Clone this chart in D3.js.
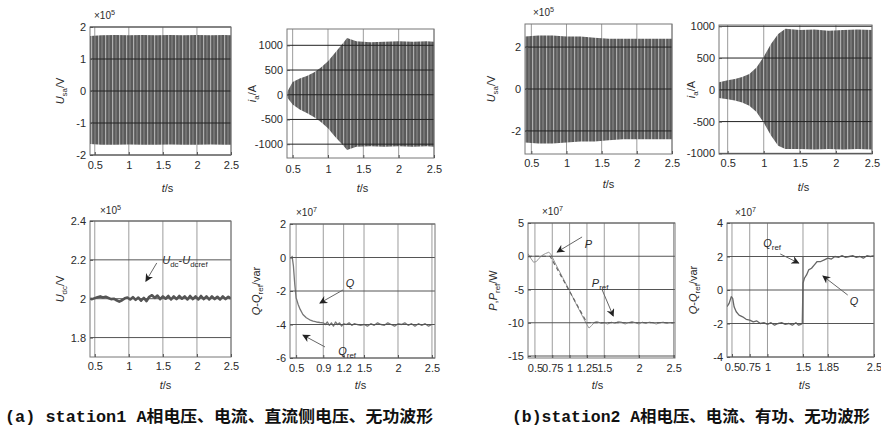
<!DOCTYPE html>
<html>
<head>
<meta charset="utf-8">
<script src="https://cdn.jsdelivr.net/npm/d3@7"></script>
<style>
body { margin: 0; background: #fff; }
svg { display: block; }
</style>
</head>
<body>
<div id="chart"></div>
<script>
// ---- (a) station1 ----
// phase voltage envelope, x10^5 V
const a1Time  = [0.43, 0.6, 0.8, 1.0, 1.2, 1.4, 1.6, 1.8, 2.0, 2.2, 2.4, 2.5];
const a1Upper = [1.72, 1.74, 1.75, 1.74, 1.75, 1.74, 1.75, 1.74, 1.75, 1.74, 1.75, 1.74];
const a1Lower = [-1.66, -1.68, -1.68, -1.67, -1.68, -1.68, -1.67, -1.68, -1.68, -1.67, -1.68, -1.68];

// phase current envelope, A
const a2Time  = [0.42, 0.5, 0.6, 0.7, 0.8, 0.9, 1.0, 1.1, 1.2, 1.27, 1.4, 1.6, 1.8, 2.0, 2.2, 2.4, 2.5];
const a2Upper = [50, 260, 330, 380, 450, 550, 680, 850, 1020, 1150, 1080, 1060, 1070, 1080, 1070, 1080, 1070];
const a2Lower = [-50, -200, -300, -370, -450, -550, -680, -850, -1000, -1120, -1050, -1040, -1050, -1040, -1050, -1040, -1050];

// dc voltage, x10^5 V
const a3Time = [0.43, 0.46, 0.50, 0.54, 0.58, 0.62, 0.66, 0.70, 0.74, 0.78, 0.82, 0.86, 0.90, 0.94, 0.98,
  1.02, 1.06, 1.10, 1.14, 1.18, 1.22, 1.26, 1.30, 1.34, 1.38, 1.42, 1.46, 1.50, 1.54, 1.58, 1.62, 1.66,
  1.70, 1.74, 1.78, 1.82, 1.86, 1.90, 1.94, 1.98, 2.02, 2.06, 2.10, 2.14, 2.18, 2.22, 2.26, 2.30, 2.34,
  2.38, 2.42, 2.46, 2.50];
const a3Udc = [2.000, 1.998, 2.003, 2.008, 2.012, 2.006, 2.010, 2.004, 1.998, 2.000, 1.992, 1.985, 1.992, 2.002, 2.006,
  1.996, 2.008, 1.994, 2.006, 1.990, 2.004, 1.988, 2.010, 2.018, 2.004, 2.016, 1.998, 2.012, 2.000, 2.014, 1.996, 2.012,
  1.998, 2.014, 2.000, 2.012, 1.996, 2.014, 1.998, 2.012, 1.996, 2.014, 1.998, 2.012, 1.996, 2.012, 1.998, 2.010, 1.996,
  2.012, 1.998, 2.010, 2.000];

// reactive power, x10^7 var
const a4Time = [0.44, 0.46, 0.48, 0.50, 0.53, 0.56, 0.60, 0.65, 0.70, 0.75, 0.80, 0.85, 0.90, 0.93, 0.96, 0.99,
  1.02, 1.05, 1.08, 1.11, 1.14, 1.17, 1.20, 1.24, 1.28, 1.32, 1.36, 1.40, 1.45, 1.50, 1.55, 1.60, 1.65, 1.70,
  1.75, 1.80, 1.85, 1.90, 1.95, 2.00, 2.05, 2.10, 2.15, 2.20, 2.25, 2.30, 2.35, 2.40, 2.45, 2.50];
const a4Q = [0.1, -0.5, -1.6, -2.4, -2.8, -3.1, -3.4, -3.6, -3.72, -3.8, -3.85, -3.88, -3.9, -4.0, -3.85, -4.05,
  -3.9, -4.1, -3.85, -4.0, -3.9, -4.1, -3.95, -4.0, -3.9, -4.05, -3.95, -4.0, -4.05, -4.0, -4.1, -3.95, -4.05, -3.9,
  -4.0, -4.05, -3.9, -4.0, -4.1, -3.95, -4.0, -3.9, -4.05, -3.95, -4.1, -3.95, -4.05, -3.95, -4.1, -4.0];
const a4RefTime = [0.5, 2.5];
const a4Qref = [-4, -4];

// ---- (b) station2 ----
const b1Time  = [0.41, 0.6, 0.8, 1.0, 1.2, 1.4, 1.6, 1.8, 2.0, 2.2, 2.5];
const b1Upper = [2.5, 2.55, 2.55, 2.5, 2.5, 2.45, 2.4, 2.4, 2.4, 2.4, 2.4];
const b1Lower = [-2.55, -2.6, -2.6, -2.55, -2.5, -2.5, -2.45, -2.4, -2.4, -2.4, -2.4];

const b2Time  = [0.38, 0.5, 0.6, 0.7, 0.8, 0.9, 1.0, 1.1, 1.2, 1.3, 1.5, 1.7, 1.9, 2.1, 2.3, 2.5];
const b2Upper = [120, 150, 170, 200, 250, 350, 520, 720, 880, 960, 940, 950, 930, 940, 950, 940];
const b2Lower = [-130, -150, -170, -200, -250, -350, -520, -720, -880, -930, -930, -940, -930, -940, -930, -940];

// active power, x10^7 W
const b3Time = [0.40, 0.44, 0.48, 0.52, 0.56, 0.60, 0.65, 0.70, 0.73, 0.80, 0.90, 1.00, 1.10, 1.20, 1.25, 1.28,
  1.32, 1.36, 1.40, 1.45, 1.50, 1.55, 1.60, 1.65, 1.70, 1.75, 1.80, 1.85, 1.90, 1.95, 2.00, 2.05, 2.10, 2.15,
  2.20, 2.25, 2.30, 2.35, 2.40, 2.45, 2.50];
const b3P = [0.4, -0.3, -0.9, -0.8, -0.3, 0.1, 0.4, 0.6, 0.3, -1.2, -3.2, -5.2, -7.3, -9.3, -10.3, -10.8,
  -10.4, -9.9, -9.8, -10.1, -10.0, -10.2, -9.9, -10.1, -9.8, -9.9, -10.2, -10.0, -9.8, -10.0, -10.2, -9.9, -10.1, -9.9,
  -10.0, -10.2, -10.0, -9.9, -10.1, -10.0, -10.1];
const b3RefTime = [0.40, 0.72, 1.25, 2.50];
const b3Pref = [0, 0, -10, -10];

// reactive power, x10^7 var
const b4Time = [0.43, 0.46, 0.49, 0.51, 0.53, 0.56, 0.60, 0.65, 0.70, 0.75, 0.80, 0.85, 0.90, 0.95, 1.00, 1.05,
  1.10, 1.15, 1.20, 1.25, 1.30, 1.35, 1.40, 1.44, 1.47, 1.49, 1.50, 1.52, 1.55, 1.58, 1.62, 1.66, 1.70, 1.75,
  1.80, 1.85, 1.90, 1.95, 2.00, 2.05, 2.10, 2.15, 2.20, 2.25, 2.30, 2.35, 2.40, 2.45, 2.50];
const b4Q = [-1.0, -0.8, -0.4, -0.5, -1.0, -1.3, -1.5, -1.6, -1.75, -1.8, -1.9, -1.85, -2.0, -1.95, -2.05, -1.95,
  -2.1, -2.0, -1.95, -2.05, -2.0, -2.1, -1.95, -2.1, -2.05, -2.0, 0.4, 0.7, 0.9, 1.2, 1.3, 1.5, 1.7, 1.7,
  1.8, 1.9, 1.85, 2.0, 1.95, 2.05, 1.95, 2.0, 2.05, 1.95, 2.0, 1.9, 2.05, 2.0, 2.05];
const b4RefTime = [0.43, 1.5, 1.5, 2.5];
const b4Qref = [-2, -2, 2, 2];

// tick values
const xTicksStd = [0.5, 1, 1.5, 2, 2.5];
const xTicksA4 = [0.5, 0.9, 1.2, 1.5, 2, 2.5];
const xTicksB3 = [0.5, 0.75, 1, 1.25, 1.5, 2, 2.5];
const xTicksB4 = [0.5, 0.75, 1, 1.5, 1.85, 2.5];

const captionA = "(a) station1 A相电压、电流、直流侧电压、无功波形";
const captionB = "(b)station2 A相电压、电流、有功、无功波形";

const W = 881, H = 435;
const svg = d3.select("#chart").append("svg")
    .attr("width", W)
    .attr("height", H)
    .attr("viewBox", [0, 0, W, H]);

const defs = svg.append("defs");
// dense 50 Hz waveform shows up as a dark band with light stripes
const pat = defs.append("pattern")
    .attr("id", "wave")
    .attr("patternUnits", "userSpaceOnUse")
    .attr("width", 7)
    .attr("height", 6);
pat.append("rect").attr("width", 7).attr("height", 6).attr("fill", "#5a5a5a");
pat.append("rect").attr("x", 0).attr("width", 1.2).attr("height", 6).attr("fill", "#b0b0b0");
pat.append("rect").attr("x", 3.5).attr("width", 1).attr("height", 6).attr("fill", "#8c8c8c");

defs.append("marker")
    .attr("id", "arrow")
    .attr("viewBox", "0 0 10 10")
    .attr("refX", 9)
    .attr("refY", 5)
    .attr("markerUnits", "userSpaceOnUse")
    .attr("markerWidth", 10)
    .attr("markerHeight", 8)
    .attr("orient", "auto")
  .append("path")
    .attr("d", "M0,0L10,5L0,10L3,5z")
    .attr("fill", "#222");

const sansFont = "'Liberation Sans', Arial, sans-serif";
const textColor = "#2a2a2a";

// text with italic / subscript / superscript pieces
function richText(sel, parts, size) {
    let shift = 0;
    parts.forEach(pt => {
        const ts = sel.append("tspan").text(pt.t);
        if (pt.i) ts.attr("font-style", "italic");
        const target = pt.sub ? size * 0.3 : pt.sup ? -size * 0.45 : 0;
        if (target !== shift) { ts.attr("dy", target - shift); shift = target; }
        if (pt.sub || pt.sup) ts.attr("font-size", size * 0.72);
    });
}

function panel(p) {
    const x = d3.scaleLinear().domain(p.xDomain).range([p.left, p.right]);
    const y = d3.scaleLinear().domain(p.yDomain).range([p.bottom, p.top]);
    const g = svg.append("g");

    defs.append("clipPath").attr("id", "clip-" + p.id)
      .append("rect")
        .attr("x", p.left).attr("y", p.top)
        .attr("width", p.right - p.left).attr("height", p.bottom - p.top);

    // vertical grid
    g.append("g").selectAll("line")
        .data(p.xTicks)
        .join("line")
        .attr("x1", d => x(d)).attr("x2", d => x(d))
        .attr("y1", p.top).attr("y2", p.bottom)
        .attr("stroke", "#9c9c9c")
        .attr("stroke-width", 1);

    const plot = g.append("g").attr("clip-path", "url(#clip-" + p.id + ")");

    if (p.band) {
        const area = d3.area()
            .x((d, i) => x(p.band.time[i]))
            .y0((d, i) => y(p.band.lower[i]))
            .y1((d, i) => y(p.band.upper[i]));
        plot.append("path")
            .datum(p.band.upper)
            .attr("d", area)
            .attr("fill", "url(#wave)");
    }

    // horizontal grid
    g.append("g").selectAll("line")
        .data(p.yTicks)
        .join("line")
        .attr("x1", p.left).attr("x2", p.right)
        .attr("y1", d => y(d)).attr("y2", d => y(d))
        .attr("stroke", p.band ? "#222" : "#555")
        .attr("stroke-width", 1);

    (p.lines || []).forEach(ln => {
        const line = d3.line()
            .x((d, i) => x(ln.time[i]))
            .y(d => y(d));
        plot.append("path")
            .datum(ln.values)
            .attr("d", line)
            .attr("fill", "none")
            .attr("stroke", ln.color)
            .attr("stroke-width", ln.width)
            .attr("stroke-dasharray", ln.dash || null)
            .attr("stroke-linejoin", "round");
    });

    // frame
    g.append("rect")
        .attr("x", p.left).attr("y", p.top)
        .attr("width", p.right - p.left).attr("height", p.bottom - p.top)
        .attr("fill", "none")
        .attr("stroke", "#777");

    const xAxis = g.append("g")
        .attr("transform", "translate(0," + p.bottom + ")")
        .call(d3.axisBottom(x).tickValues(p.xTicks).tickFormat(d => String(d))
            .tickSizeInner(-3).tickSizeOuter(0).tickPadding(p.xPad || 6));
    const yAxis = g.append("g")
        .attr("transform", "translate(" + p.left + ",0)")
        .call(d3.axisLeft(y).tickValues(p.yTicks).tickFormat(d => String(d))
            .tickSizeInner(-3).tickSizeOuter(0).tickPadding(4));
    [xAxis, yAxis].forEach(ax => {
        ax.select(".domain").remove();
        ax.selectAll(".tick line").attr("stroke", "#555");
        ax.selectAll(".tick text")
            .attr("fill", textColor)
            .attr("font-size", 11)
            .attr("font-family", sansFont);
    });

    // x label t/s
    const xl = g.append("text")
        .attr("x", (p.left + p.right) / 2 + p.xLabelDx)
        .attr("y", p.xLabelY)
        .attr("text-anchor", "middle")
        .attr("font-size", 11)
        .attr("font-family", sansFont)
        .attr("fill", textColor);
    richText(xl, [{t: "t", i: true}, {t: "/s"}], 11);

    // y label
    const yl = g.append("text")
        .attr("transform", "translate(" + p.yLabel.x + "," + (p.top + p.bottom) / 2 + ") rotate(-90)")
        .attr("text-anchor", "middle")
        .attr("font-size", 11)
        .attr("font-family", sansFont)
        .attr("fill", textColor);
    richText(yl, p.yLabel.parts, 11);

    if (p.exponent) {
        const ex = g.append("text")
            .attr("x", p.left + p.exponent.dx)
            .attr("y", p.top - p.exponent.dy)
            .attr("font-size", 10)
            .attr("font-family", sansFont)
            .attr("fill", textColor);
        richText(ex, [{t: "×10"}, {t: p.exponent.power, sup: true}], 10);
    }

    (p.notes || []).forEach(n => {
        g.append("line")
            .attr("x1", x(n.from[0])).attr("y1", y(n.from[1]))
            .attr("x2", x(n.to[0])).attr("y2", y(n.to[1]))
            .attr("stroke", "#666")
            .attr("stroke-width", 1)
            .attr("marker-end", "url(#arrow)");
        const t = g.append("text")
            .attr("x", x(n.at[0]))
            .attr("y", y(n.at[1]))
            .attr("font-size", 11)
            .attr("font-family", sansFont)
            .attr("fill", textColor);
        richText(t, n.parts, 11);
    });
}

const topY = 192, botY = 389;

panel({
    id: "a1", left: 90, right: 231, top: 27, bottom: 155,
    xDomain: [0.43, 2.5], yDomain: [-2, 2],
    xTicks: xTicksStd, yTicks: [-2, -1, 0, 1, 2],
    band: {time: a1Time, upper: a1Upper, lower: a1Lower},
    xLabelDx: 7, xLabelY: topY, xPad: 6,
    yLabel: {x: 64, parts: [{t: "U", i: true}, {t: "sa", sub: true}, {t: "/V"}]},
    exponent: {power: "5", dx: 4, dy: 8}
});

panel({
    id: "a2", left: 287, right: 434, top: 29, bottom: 158,
    xDomain: [0.42, 2.5], yDomain: [-1280, 1330],
    xTicks: xTicksStd, yTicks: [-1000, -500, 0, 500, 1000],
    band: {time: a2Time, upper: a2Upper, lower: a2Lower},
    xLabelDx: 2, xLabelY: topY, xPad: 7,
    yLabel: {x: 256, parts: [{t: "i", i: true}, {t: "a", sub: true}, {t: "/A"}]}
});

panel({
    id: "a3", left: 90, right: 231, top: 221, bottom: 357,
    xDomain: [0.43, 2.5], yDomain: [1.7, 2.4],
    xTicks: xTicksStd, yTicks: [1.8, 2, 2.2, 2.4],
    lines: [{time: a3Time, values: a3Udc, color: "#555", width: 2.6}],
    xLabelDx: 5, xLabelY: botY, xPad: 5,
    yLabel: {x: 64, parts: [{t: "U", i: true}, {t: "dc", sub: true}, {t: "/V"}]},
    exponent: {power: "5", dx: 10, dy: 7},
    notes: [{
        at: [1.49, 2.18], from: [1.41, 2.184], to: [1.25, 2.09],
        parts: [{t: "U", i: true}, {t: "dc", sub: true}, {t: "-"}, {t: "U", i: true}, {t: "dcref", sub: true}]
    }]
});

panel({
    id: "a4", left: 290, right: 435, top: 224, bottom: 358,
    xDomain: [0.41, 2.545], yDomain: [-6, 2],
    xTicks: xTicksA4, yTicks: [-6, -4, -2, 0, 2],
    lines: [
        {time: a4RefTime, values: a4Qref, color: "#555", width: 1},
        {time: a4Time, values: a4Q, color: "#777", width: 1.3}
    ],
    xLabelDx: -2, xLabelY: botY, xPad: 6,
    yLabel: {x: 260, parts: [{t: "Q", i: true}, {t: "-"}, {t: "Q", i: true}, {t: "ref", sub: true}, {t: "/var"}]},
    exponent: {power: "7", dx: 6, dy: 8},
    notes: [
        {at: [1.23, -1.75], from: [1.19, -1.94], to: [0.85, -2.72], parts: [{t: "Q", i: true}]},
        {at: [1.12, -5.8], from: [0.925, -5.34], to: [0.60, -4.63], parts: [{t: "Q", i: true}, {t: "ref", sub: true}]}
    ]
});

panel({
    id: "b1", left: 525, right: 672, top: 24, bottom: 154,
    xDomain: [0.41, 2.5], yDomain: [-3.1, 3.1],
    xTicks: xTicksStd, yTicks: [-2, 0, 2],
    band: {time: b1Time, upper: b1Upper, lower: b1Lower},
    xLabelDx: 10, xLabelY: topY - 4, xPad: 5,
    yLabel: {x: 495, parts: [{t: "U", i: true}, {t: "sa", sub: true}, {t: "/V"}]},
    exponent: {power: "5", dx: 8, dy: 8}
});

panel({
    id: "b2", left: 719, right: 872, top: 25, bottom: 154,
    xDomain: [0.38, 2.5], yDomain: [-1010, 1020],
    xTicks: xTicksStd, yTicks: [-1000, -500, 0, 500, 1000],
    band: {time: b2Time, upper: b2Upper, lower: b2Lower},
    xLabelDx: 8, xLabelY: topY - 1, xPad: 5,
    yLabel: {x: 695, parts: [{t: "i", i: true}, {t: "a", sub: true}, {t: "/A"}]}
});

panel({
    id: "b3", left: 528, right: 675, top: 223, bottom: 358,
    xDomain: [0.4, 2.52], yDomain: [-15.3, 5],
    xTicks: xTicksB3, yTicks: [-15, -10, -5, 0, 5],
    lines: [
        {time: b3Time, values: b3P, color: "#999", width: 1},
        {time: b3RefTime, values: b3Pref, color: "#666", width: 1.2, dash: "4,3"}
    ],
    xLabelDx: -4, xLabelY: botY, xPad: 6,
    yLabel: {x: 497, parts: [{t: "P", i: true}, {t: ","}, {t: "P", i: true}, {t: "ref", sub: true}, {t: "/W"}]},
    exponent: {power: "7", dx: 14, dy: 8},
    notes: [
        {at: [1.22, 1.24], from: [1.18, 2.9], to: [0.82, 0.64], parts: [{t: "P", i: true}]},
        {at: [1.32, -4.6], from: [1.47, -5.07], to: [1.63, -9.0], parts: [{t: "P", i: true}, {t: "ref", sub: true}]}
    ]
});

panel({
    id: "b4", left: 727, right: 874, top: 223, bottom: 357,
    xDomain: [0.43, 2.5], yDomain: [-4, 4],
    xTicks: xTicksB4, yTicks: [-4, -2, 0, 2, 4],
    lines: [
        {time: b4RefTime, values: b4Qref, color: "#666", width: 1},
        {time: b4Time, values: b4Q, color: "#666", width: 1.3}
    ],
    xLabelDx: 4, xLabelY: botY, xPad: 6,
    yLabel: {x: 697, parts: [{t: "Q", i: true}, {t: "-"}, {t: "Q", i: true}, {t: "ref", sub: true}, {t: "/var"}]},
    exponent: {power: "7", dx: 8, dy: 7},
    notes: [
        {at: [0.94, 2.57], from: [1.18, 2.15], to: [1.44, 1.61], parts: [{t: "Q", i: true}, {t: "ref", sub: true}]},
        {at: [2.16, -0.9], from: [2.13, -0.3], to: [1.78, 0.84], parts: [{t: "Q", i: true}]}
    ]
});

// captions
const capFont = "'Liberation Mono', 'Noto Sans CJK SC', monospace";
svg.append("text")
    .attr("x", 5).attr("y", 422)
    .attr("font-family", capFont)
    .attr("font-weight", "bold")
    .attr("font-size", 16)
    .attr("textLength", 428)
    .attr("lengthAdjust", "spacingAndGlyphs")
    .attr("fill", "#111")
    .text(captionA);
svg.append("text")
    .attr("x", 512).attr("y", 422)
    .attr("font-family", capFont)
    .attr("font-weight", "bold")
    .attr("font-size", 16)
    .attr("textLength", 358)
    .attr("lengthAdjust", "spacingAndGlyphs")
    .attr("fill", "#111")
    .text(captionB);
</script>
</body>
</html>
